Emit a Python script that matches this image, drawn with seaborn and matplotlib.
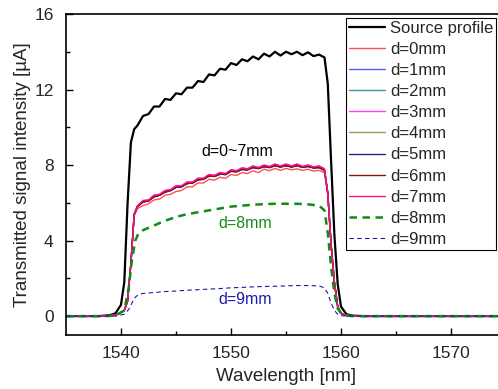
import matplotlib
matplotlib.use("Agg")
import matplotlib.pyplot as plt
import seaborn as sns

# wavelength grid for the measured curves [nm]
wl = [1535.0, 1538.0, 1539.0, 1539.5, 1540.0, 1540.3, 1540.6, 1540.9, 1541.2,
      1541.5, 1542.0, 1542.5, 1543.0, 1543.5, 1544.0, 1544.5, 1545.0, 1545.5,
      1546.0, 1546.5, 1547.0, 1547.5, 1548.0, 1548.5, 1549.0, 1549.5, 1550.0,
      1550.5, 1551.0, 1551.5, 1552.0, 1552.5, 1553.0, 1553.5, 1554.0, 1554.5,
      1555.0, 1555.5, 1556.0, 1556.5, 1557.0, 1557.5, 1558.0, 1558.5,
      1558.8, 1559.1, 1559.4, 1559.7, 1560.0, 1560.5, 1561.0, 1562.0, 1575.0]

source = [0, 0, 0.05, 0.15, 0.6, 1.8, 6.0, 9.2, 9.9,
          10.1, 10.6, 10.7, 11.1, 11.1, 11.5, 11.45, 11.8, 11.75,
          12.1, 12.1, 12.45, 12.4, 12.8, 12.75, 13.1, 13.05, 13.4,
          13.3, 13.6, 13.5, 13.75, 13.6, 13.9, 13.75, 14.0, 13.8,
          14.0, 13.87, 14.0, 13.82, 13.97, 13.77, 13.85, 13.7,
          12.3, 8.2, 4.3, 1.7, 0.5, 0.1, 0.03, 0, 0]

# d=0mm (slightly below the others)
d0 = [0, 0, 0.02, 0.05, 0.2, 0.3, 0.8, 2.7, 5.3,
      5.7, 5.85, 5.95, 6.15, 6.2, 6.4, 6.45, 6.6, 6.65,
      6.85, 6.85, 7.05, 7.05, 7.25, 7.2, 7.35, 7.3, 7.5,
      7.45, 7.6, 7.55, 7.7, 7.6, 7.78, 7.7, 7.82, 7.72,
      7.82, 7.75, 7.8, 7.72, 7.78, 7.68, 7.72, 7.6,
      6.4, 3.7, 1.7, 0.5, 0.15, 0.03, 0, 0, 0]

# d=1,2,4,5,6mm (overlapping)
d_mid = [0, 0, 0.02, 0.05, 0.2, 0.3, 0.8, 2.8, 5.4,
         5.8, 6.05, 6.1, 6.32, 6.4, 6.57, 6.65, 6.82, 6.85,
         7.02, 7.05, 7.22, 7.25, 7.42, 7.4, 7.52, 7.5, 7.67,
         7.65, 7.77, 7.75, 7.87, 7.82, 7.92, 7.87, 7.97, 7.9,
         7.97, 7.9, 7.97, 7.88, 7.93, 7.85, 7.87, 7.72,
         6.5, 3.8, 1.8, 0.5, 0.15, 0.03, 0, 0, 0]

# d=3,7mm (top of the bundle)
d_top = [0, 0, 0.02, 0.05, 0.2, 0.3, 0.8, 2.8, 5.4,
         5.85, 6.12, 6.15, 6.4, 6.45, 6.65, 6.7, 6.9, 6.9,
         7.1, 7.1, 7.3, 7.3, 7.5, 7.45, 7.6, 7.55, 7.75,
         7.7, 7.85, 7.8, 7.95, 7.87, 8.0, 7.92, 8.05, 7.95,
         8.05, 7.95, 8.05, 7.93, 8.0, 7.9, 7.95, 7.8,
         6.5, 3.8, 1.8, 0.5, 0.15, 0.03, 0, 0, 0]

# coarser grid for the dashed curves
wl_dash = [1535, 1538, 1539.5, 1540.3, 1540.7, 1541.0, 1541.3, 1541.6, 1542,
           1543, 1544, 1545, 1546, 1547, 1548, 1549, 1550, 1551, 1552, 1553,
           1554, 1555, 1556, 1557, 1558, 1558.5, 1558.8, 1559.1, 1559.4,
           1559.7, 1560.1, 1561, 1575]

d8 = [0, 0, 0.02, 0.3, 1.5, 3.0, 4.0, 4.4, 4.55,
      4.8, 5.05, 5.25, 5.4, 5.5, 5.6, 5.7, 5.8, 5.85, 5.9, 5.93,
      5.95, 5.95, 5.95, 5.92, 5.85, 5.6, 4.4, 2.6, 1.2,
      0.4, 0.08, 0, 0]

d9 = [0, 0, 0, 0.1, 0.35, 0.7, 1.0, 1.15, 1.2,
      1.25, 1.3, 1.33, 1.37, 1.4, 1.43, 1.46, 1.5, 1.52, 1.55, 1.57,
      1.58, 1.6, 1.62, 1.62, 1.6, 1.5, 1.2, 0.7, 0.3,
      0.1, 0.02, 0, 0]

sns.set_style("ticks")
plt.rcParams['font.family'] = ['Liberation Sans', 'DejaVu Sans']
plt.rcParams['font.size'] = 12

fig = plt.figure(figsize=(4.98, 3.89), dpi=100)
ax = fig.add_axes([66 / 498, 54 / 389, 440 / 498, 321 / 389])

sns.lineplot(x=wl, y=source, ax=ax, color='black', lw=1.6, label='Source profile')
sns.lineplot(x=wl, y=d0, ax=ax, color='#ff5050', lw=1.0, label='d=0mm')
sns.lineplot(x=wl, y=d_mid, ax=ax, color='#5a5aff', lw=1.0, label='d=1mm')
sns.lineplot(x=wl, y=d_mid, ax=ax, color='#30a0a0', lw=1.0, label='d=2mm')
sns.lineplot(x=wl, y=d_top, ax=ax, color='#ff40ff', lw=1.0, label='d=3mm')
sns.lineplot(x=wl, y=d_mid, ax=ax, color='#a09850', lw=1.0, label='d=4mm')
sns.lineplot(x=wl, y=d_mid, ax=ax, color='#202090', lw=1.0, label='d=5mm')
sns.lineplot(x=wl, y=d_mid, ax=ax, color='#801515', lw=1.0, label='d=6mm')
sns.lineplot(x=wl, y=d_top, ax=ax, color='#ff1080', lw=1.0, label='d=7mm')
sns.lineplot(x=wl_dash, y=d8, ax=ax, color='#138a13', lw=1.8,
             linestyle=(0, (3, 2.2)), label='d=8mm')
sns.lineplot(x=wl_dash, y=d9, ax=ax, color='#1a1aa8', lw=0.8,
             linestyle=(0, (4, 3)), label='d=9mm')

ax.text(1550.6, 8.7, 'd=0~7mm', color='black', fontsize=11.5, ha='center', va='center')
ax.text(1551.3, 4.9, 'd=8mm', color='#138a13', fontsize=11.5, ha='center', va='center')
ax.text(1551.3, 0.9, 'd=9mm', color='#1a1aa8', fontsize=11.5, ha='center', va='center')

ax.set_xlim(1535, 1575)
ax.set_ylim(-1, 16)
ax.set_xticks([1540, 1550, 1560, 1570])
ax.set_xticks([1545, 1555, 1565], minor=True)
ax.set_yticks([0, 4, 8, 12, 16])
ax.set_yticks([2, 6, 10, 14], minor=True)
ax.tick_params(which='both', direction='in', top=False, right=False,
               labelsize=12.5, width=1, color='black')
ax.tick_params(which='major', length=5)
ax.tick_params(which='minor', length=3)
ax.tick_params(axis='y', which='major', pad=9)
ax.tick_params(axis='x', which='major', pad=8)
for s in ax.spines.values():
    s.set_visible(True)
    s.set_linewidth(1.2)
    s.set_color('black')

ax.set_xlabel('Wavelength [nm]', fontsize=13.5, labelpad=5)
ax.set_ylabel('Transmitted signal intensity [µA]', fontsize=13.5, labelpad=2)

leg = ax.legend(loc='upper left', bbox_to_anchor=(346 / 498, 1 - 18 / 389),
                bbox_transform=fig.transFigure, borderaxespad=0, fontsize=12,
                frameon=True, fancybox=False, edgecolor='black',
                handlelength=2.2, handletextpad=0.3, labelspacing=0.37,
                borderpad=0.15)
leg.get_frame().set_linewidth(0.8)
leg.get_frame().set_alpha(1)

fig.savefig('out.png', dpi=100)
